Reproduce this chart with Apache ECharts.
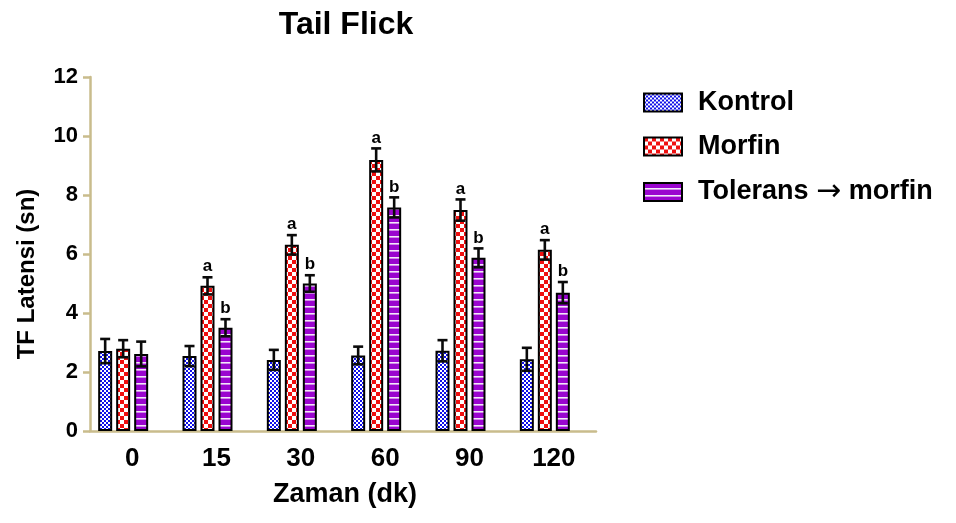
<!DOCTYPE html>
<html>
<head>
<meta charset="utf-8">
<script src="https://cdn.jsdelivr.net/npm/echarts@6/dist/echarts.min.js"></script>
<style>
  html, body { margin: 0; padding: 0; background: #fff; }
  #chart { width: 956px; height: 523px; }
</style>
</head>
<body>
<div id="chart"></div>
<script>
// Tail flick latency (s) over time (min), mean ± SEM per group
const categories = ['0', '15', '30', '60', '90', '120'];

const kontrol     = [2.71, 2.54, 2.41, 2.56, 2.72, 2.43];
const kontrolSem  = [0.41, 0.34, 0.34, 0.30, 0.36, 0.39];

const morfin      = [2.79, 4.92, 6.31, 9.19, 7.49, 6.14];
const morfinSem   = [0.29, 0.29, 0.33, 0.39, 0.36, 0.33];

const tolerans    = [2.61, 3.50, 5.00, 7.58, 5.87, 4.69];
const toleransSem = [0.42, 0.29, 0.28, 0.34, 0.32, 0.36];

// significance letters above the error bars
const morfinMarks   = ['', 'a', 'a', 'a', 'a', 'a'];
const toleransMarks = ['', 'b', 'b', 'b', 'b', 'b'];

const yTicks = { min: 0, max: 12, interval: 2 };

const FONT = '"Liberation Sans", Arial, Helvetica, sans-serif';
const AXIS_COLOR = '#c9bc8c';

// ---- fill patterns -------------------------------------------------------
function makePattern(w, h, draw) {
  const c = document.createElement('canvas');
  c.width = w; c.height = h;
  const ctx = c.getContext('2d');
  draw(ctx, w, h);
  return { image: c, repeat: 'repeat' };
}
// fine blue/white checkerboard
const bluePattern = makePattern(4, 4, (ctx) => {
  ctx.fillStyle = '#ffffff'; ctx.fillRect(0, 0, 4, 4);
  ctx.fillStyle = '#1010e8';
  ctx.fillRect(0, 0, 2, 2); ctx.fillRect(2, 2, 2, 2);
});
// coarse red/white checkerboard
const redPattern = makePattern(8, 8, (ctx) => {
  ctx.fillStyle = '#ffffff'; ctx.fillRect(0, 0, 8, 8);
  ctx.fillStyle = '#f01010';
  ctx.fillRect(0, 0, 4, 4); ctx.fillRect(4, 4, 4, 4);
});
// purple with thin white horizontal stripes
const purplePattern = makePattern(4, 7, (ctx) => {
  ctx.fillStyle = '#9a05cf'; ctx.fillRect(0, 0, 4, 7);
  ctx.fillStyle = '#f4e6fb';
  ctx.fillRect(0, 5, 4, 1.6);
});

// ---- bar geometry --------------------------------------------------------
const BAR_W = 14;
const BAR_GAP_PX = 4;
const SLOT_COUNT = 4;                  // three groups plus an empty slot
function slotOffset(i) {
  return (i - (SLOT_COUNT - 1) / 2) * (BAR_W + BAR_GAP_PX);
}

function barSeries(name, values, fill) {
  return {
    name: name,
    type: 'bar',
    data: values,
    barWidth: BAR_W,
    barGap: (BAR_GAP_PX / BAR_W * 100).toFixed(2) + '%',
    itemStyle: { color: fill, borderColor: '#000', borderWidth: 2 },
    emphasis: { disabled: true },
    z: 2
  };
}

function errorSeries(values, sems, marks, slot) {
  return {
    type: 'custom',
    data: values.map((v, i) => [i, v, sems[i]]),
    encode: { x: 0, y: 1 },
    z: 5,
    silent: true,
    renderItem: function (params, api) {
      const idx = api.value(0);
      const mean = api.value(1);
      const sem = api.value(2);
      const top = api.coord([idx, mean + sem]);
      const bot = api.coord([idx, mean - sem]);
      const x = top[0] + slotOffset(slot);
      const capHalf = 5;
      const st = { stroke: '#0a0a0a', lineWidth: 2.6 };
      const children = [
        { type: 'line', shape: { x1: x, y1: bot[1], x2: x, y2: top[1] }, style: st },
        { type: 'line', shape: { x1: x - capHalf, y1: top[1], x2: x + capHalf, y2: top[1] }, style: st },
        { type: 'line', shape: { x1: x - capHalf, y1: bot[1], x2: x + capHalf, y2: bot[1] }, style: st }
      ];
      const mark = marks ? marks[params.dataIndex] : '';
      if (mark) {
        children.push({
          type: 'text',
          style: {
            text: mark, x: x, y: top[1] - 2,
            align: 'center', verticalAlign: 'bottom',
            font: 'bold 17px ' + FONT, fill: '#000'
          }
        });
      }
      return { type: 'group', children: children };
    }
  };
}

const chart = echarts.init(document.getElementById('chart'), null, { renderer: 'canvas' });

chart.setOption({
  animation: false,
  backgroundColor: '#ffffff',
  title: {
    text: 'Tail Flick',
    left: 341, top: 4,
    textAlign: 'center',
    textStyle: { fontFamily: FONT, fontWeight: 'bold', fontSize: 32, color: '#000' }
  },
  legend: {
    data: ['Kontrol', 'Morfin', 'Tolerans \u2192 morfin'],
    orient: 'vertical',
    left: 638, top: 84,
    itemWidth: 38, itemHeight: 18,
    itemGap: 17,
    icon: 'rect',
    selectedMode: false,
    // draw the arrow in a wider glyph than the bold text face
    formatter: function (name) {
      return name.replace('\u2192', '{arr|\u2192}');
    },
    textStyle: {
      fontFamily: FONT, fontWeight: 'bold', fontSize: 27, color: '#000',
      lineHeight: 27, padding: [0, 0, 0, 11],
      rich: {
        arr: { fontFamily: '"DejaVu Sans", sans-serif', fontWeight: 'normal',
               fontSize: 30, lineHeight: 27, color: '#000' }
      }
    }
  },
  grid: { left: 90, top: 77, width: 506, height: 354, containLabel: false },
  xAxis: {
    type: 'category',
    data: categories,
    name: 'Zaman (dk)',
    nameLocation: 'middle',
    nameGap: 50,
    nameTextStyle: { fontFamily: FONT, fontWeight: 'bold', fontSize: 27, color: '#000', padding: [0, 0, 0, 4] },
    axisLine: { lineStyle: { color: AXIS_COLOR, width: 2.5 } },
    axisTick: { alignWithLabel: true, length: 8, lineStyle: { color: AXIS_COLOR, width: 2.5 } },
    axisLabel: { fontFamily: FONT, fontWeight: 'bold', fontSize: 26, color: '#000', margin: 15 },
    splitLine: { show: false }
  },
  yAxis: {
    type: 'value',
    min: yTicks.min, max: yTicks.max, interval: yTicks.interval,
    name: 'TF Latensi (sn)',
    nameLocation: 'middle',
    nameGap: 51,
    nameTextStyle: { fontFamily: FONT, fontWeight: 'bold', fontSize: 24, color: '#000', padding: [0, 40, 0, 0] },
    axisLine: { show: true, lineStyle: { color: AXIS_COLOR, width: 2.5 } },
    axisTick: { show: true, length: 7, lineStyle: { color: AXIS_COLOR, width: 2.5 } },
    axisLabel: { fontFamily: FONT, fontWeight: 'bold', fontSize: 22, color: '#000', margin: 12 },
    splitLine: { show: false }
  },
  series: [
    barSeries('Kontrol', kontrol, bluePattern),
    barSeries('Morfin', morfin, redPattern),
    barSeries('Tolerans \u2192 morfin', tolerans, purplePattern),
    // empty slot: keeps each group left of its tick, as in the Prism layout
    { name: 'slot', type: 'bar', data: categories.map(() => null), barWidth: BAR_W,
      barGap: (BAR_GAP_PX / BAR_W * 100).toFixed(2) + '%', silent: true },
    errorSeries(kontrol, kontrolSem, null, 0),
    errorSeries(morfin, morfinSem, morfinMarks, 1),
    errorSeries(tolerans, toleransSem, toleransMarks, 2)
  ]
});
</script>
</body>
</html>
